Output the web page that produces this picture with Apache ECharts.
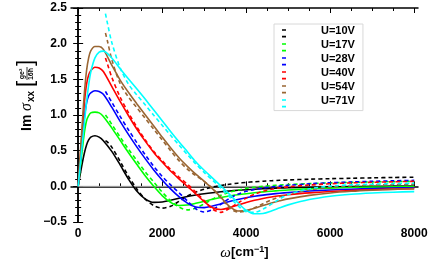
<!DOCTYPE html>
<html>
<head>
<meta charset="utf-8">
<script src="https://cdn.jsdelivr.net/npm/echarts@6/dist/echarts.min.js"></script>
<style>html,body{margin:0;padding:0;background:#fff}#c{width:436px;height:272px}</style>
</head>
<body>
<div id="c"></div>
<script>
// ---- data ----
const voltages = ['U=10V','U=17V','U=28V','U=40V','U=54V','U=71V'];
const xTicks = [0, 2000, 4000, 6000, 8000];
const xMinorTicks = [500,1000,1500,2500,3000,3500,4500,5000,5500,6500,7000,7500];
const yTicks = [-0.5, 0.0, 0.5, 1.0, 1.5, 2.0, 2.5];

const solidX = [0,50,100,150,200,250,300,400,500,600,800,1000,1200,1400,1600,1800,2000,2200,2400,2600,2800,3000,3200,3400,3600,3800,4000,4200,4400,4600,4800,5000,5500,6000,6500,7000,7500,8000];
const solid10 = [0,0.17,0.33,0.47,0.58,0.65,0.69,0.71,0.69,0.64,0.49,0.30,0.10,-0.07,-0.18,-0.225,-0.22,-0.195,-0.168,-0.143,-0.122,-0.104,-0.089,-0.076,-0.065,-0.055,-0.047,-0.04,-0.034,-0.029,-0.024,-0.02,-0.013,-0.007,-0.003,0.0,0.003,0.005];
const solid17 = [0,0.26,0.52,0.76,0.92,0.99,1.03,1.04,1.03,0.98,0.82,0.645,0.47,0.305,0.145,0.0,-0.13,-0.225,-0.268,-0.262,-0.238,-0.21,-0.182,-0.157,-0.136,-0.118,-0.103,-0.09,-0.078,-0.068,-0.059,-0.051,-0.036,-0.025,-0.017,-0.011,-0.006,-0.002];
const solid28 = [0,0.33,0.66,0.97,1.17,1.27,1.31,1.34,1.33,1.29,1.11,0.91,0.725,0.55,0.385,0.23,0.09,-0.035,-0.145,-0.235,-0.29,-0.298,-0.275,-0.245,-0.213,-0.185,-0.16,-0.14,-0.123,-0.109,-0.097,-0.087,-0.066,-0.051,-0.04,-0.031,-0.024,-0.019];
const solid40 = [0,0.40,0.80,1.18,1.43,1.56,1.62,1.67,1.66,1.61,1.40,1.19,0.99,0.80,0.63,0.475,0.34,0.215,0.105,0.0,-0.105,-0.215,-0.30,-0.325,-0.30,-0.262,-0.226,-0.195,-0.17,-0.15,-0.133,-0.119,-0.092,-0.072,-0.058,-0.047,-0.039,-0.032];
const solid54 = [0,0.45,0.90,1.32,1.62,1.80,1.90,1.96,1.96,1.92,1.70,1.49,1.315,1.155,1.0,0.845,0.69,0.54,0.40,0.28,0.17,0.07,-0.035,-0.155,-0.28,-0.345,-0.34,-0.307,-0.268,-0.233,-0.203,-0.176,-0.127,-0.093,-0.07,-0.054,-0.042,-0.034];
const solid71 = [0,0.30,0.60,0.90,1.18,1.42,1.60,1.80,1.88,1.895,1.80,1.65,1.505,1.365,1.22,1.07,0.92,0.77,0.625,0.485,0.345,0.225,0.115,0.005,-0.11,-0.23,-0.335,-0.385,-0.38,-0.345,-0.30,-0.26,-0.185,-0.138,-0.11,-0.093,-0.082,-0.074];

const dashX = [650,700,800,1000,1200,1400,1600,1800,2000,2200,2400,2600,2800,3000,3200,3400,3600,3800,4000,4200,4400,4600,4800,5000,5500,6000,6500,7000,7500,8000];
const dash10 = [0.64,0.62,0.55,0.35,0.14,-0.04,-0.18,-0.27,-0.305,-0.28,-0.21,-0.135,-0.08,-0.04,-0.01,0.012,0.03,0.044,0.055,0.064,0.072,0.079,0.085,0.09,0.10,0.107,0.113,0.119,0.124,0.128];
const dash17 = [1.00,0.96,0.87,0.69,0.52,0.36,0.20,0.06,-0.08,-0.20,-0.29,-0.33,-0.305,-0.245,-0.18,-0.125,-0.083,-0.052,-0.029,-0.012,0.0,0.01,0.018,0.025,0.038,0.048,0.055,0.061,0.066,0.07];
const dash28 = [1.33,1.28,1.18,0.98,0.79,0.61,0.44,0.28,0.14,0.02,-0.09,-0.205,-0.315,-0.36,-0.325,-0.25,-0.17,-0.11,-0.07,-0.043,-0.024,-0.009,0.003,0.014,0.035,0.05,0.061,0.07,0.077,0.083];
const dash40 = [1.80,1.71,1.53,1.25,1.03,0.83,0.65,0.49,0.36,0.24,0.13,0.03,-0.08,-0.20,-0.32,-0.365,-0.31,-0.235,-0.165,-0.11,-0.07,-0.042,-0.022,-0.007,0.018,0.036,0.048,0.057,0.064,0.07];
const dash54 = [2.15,2.03,1.78,1.44,1.25,1.10,0.95,0.80,0.65,0.50,0.36,0.24,0.15,0.07,-0.03,-0.16,-0.30,-0.36,-0.345,-0.30,-0.245,-0.19,-0.145,-0.11,-0.05,-0.015,0.005,0.017,0.024,0.028];
const dash71 = [2.42,2.28,2.02,1.66,1.43,1.28,1.14,0.995,0.855,0.715,0.58,0.445,0.315,0.195,0.085,-0.025,-0.145,-0.27,-0.355,-0.365,-0.32,-0.25,-0.175,-0.115,-0.035,0.003,0.02,0.03,0.037,0.042];

const zeroX = [0, 8000];
const zeroY = [0, 0];

// ---- styles ----
const colors = ['#000000','#00ff00','#0000ff','#ff0000','#996633','#00ffff'];
const solids = [solid10, solid17, solid28, solid40, solid54, solid71];
const dashes = [dash10, dash17, dash28, dash40, dash54, dash71];
const SANS = '"Liberation Sans", Arial, sans-serif';
const SERIF = '"Liberation Serif", "Times New Roman", serif';

const series = [{
  name: 'zero', type: 'line', showSymbol: false, silent: true, z: 1,
  data: zeroX.map((x, i) => [x, zeroY[i]]),
  lineStyle: { color: '#aaaaaa', width: 1 }
}];
voltages.forEach((u, k) => {
  series.push({
    name: u + ' ', type: 'line', showSymbol: false, smooth: 0.3, silent: true,
    data: solidX.map((x, i) => [x, solids[k][i]]),
    itemStyle: { color: colors[k] },
    lineStyle: { color: colors[k], width: 1.6 }
  });
  series.push({
    name: u, type: 'line', showSymbol: false, smooth: 0.3, silent: true,
    data: dashX.map((x, i) => [x, dashes[k][i]]),
    itemStyle: { color: colors[k] },
    lineStyle: { color: colors[k], width: 1.6, type: [4, 3] }
  });
});

const XMIN = -170, XMAX = 8090;
const frameLine = { show: true, lineStyle: { color: '#000', width: 1.5 } };
function xAxisDef(pos, major, showLabel, showLine) {
  return {
    type: 'value', position: pos, min: XMIN, max: XMAX,
    axisLine: showLine ? frameLine : { show: false },
    splitLine: { show: false },
    axisTick: { show: true, inside: true, length: major ? 5 : 3,
      customValues: major ? xTicks : xMinorTicks, lineStyle: { color: '#000', width: 1 } },
    axisLabel: showLabel ? { show: true, customValues: xTicks, margin: 6,
      formatter: v => String(v),
      fontFamily: SANS, fontWeight: 'bold', fontSize: 12, color: '#000' } : { show: false }
  };
}
const xAxes = [
  xAxisDef('bottom', true, true, true),
  xAxisDef('bottom', false, false, false),
  xAxisDef('top', true, false, true),
  xAxisDef('top', false, false, false)
];
xAxes[0].name = '{w|ω}{b|[cm}{s|−1}{b|]}';
xAxes[0].nameLocation = 'middle';
xAxes[0].nameGap = 21;
xAxes[0].nameTextStyle = {
  color: '#000',
  rich: {
    w: { fontFamily: SERIF, fontStyle: 'italic', fontSize: 15, color: '#000' },
    b: { fontFamily: SANS, fontWeight: 'bold', fontSize: 13, color: '#000' },
    s: { fontFamily: SANS, fontWeight: 'bold', fontSize: 9, color: '#000', padding: [0, 0, 7, 0] }
  }
};

function yAxisDef(pos, showLabel) {
  return {
    type: 'value', position: pos, min: yTicks[0], max: yTicks[yTicks.length - 1], interval: 0.5,
    axisLine: frameLine,
    splitLine: { show: false },
    axisTick: { show: true, inside: true, length: 5, lineStyle: { color: '#000', width: 1 } },
    minorTick: { show: true, splitNumber: 5, length: 3, lineStyle: { color: '#000', width: 1 } },
    minorSplitLine: { show: false },
    axisLabel: showLabel ? {
      show: true, margin: 4, fontFamily: SANS, fontWeight: 'bold', fontSize: 12, color: '#000',
      formatter: v => (v < 0 ? '−' : '') + Math.abs(v).toFixed(1)
    } : { show: false }
  };
}

const chart = echarts.init(document.getElementById('c'), null, { renderer: 'canvas' });
chart.setOption({
  animation: false,
  backgroundColor: '#ffffff',
  grid: { left: 71, right: 18, top: 8, bottom: 50, containLabel: false },
  xAxis: xAxes,
  yAxis: [yAxisDef('left', true), yAxisDef('right', false)],
  legend: {
    show: true, orient: 'vertical', left: 274, top: 24,
    data: voltages,
    icon: 'path://M0,-5.3L0,-5.3M34,8.3L34,8.3M0,0H4V1.5H0Z M0,6.5H4V8.2H0Z',
    itemWidth: 34, itemHeight: 13.6, itemGap: 0.4,
    padding: [0, 8, 3, 8],
    backgroundColor: '#ffffff', borderColor: '#d8d8d8', borderWidth: 1,
    textStyle: { fontFamily: SANS, fontWeight: 'bold', fontSize: 11, color: '#000' },
    selectedMode: false
  },
  graphic: [{
    type: 'group', x: 27, y: 131, rotation: Math.PI / 2,
    children: [
      { type: 'text', x: 0, y: 0, style: { text: 'Im', font: 'bold 14px ' + SANS, fill: '#000', verticalAlign: 'middle' } },
      { type: 'text', x: 20, y: 0, style: { text: 'σ', font: 'italic 16px ' + SERIF, fill: '#000', verticalAlign: 'middle' } },
      { type: 'text', x: 29, y: 4, style: { text: 'xx', font: 'bold 10px ' + SANS, fill: '#000', verticalAlign: 'middle' } },
      { type: 'text', x: 44, y: -1, style: { text: '[', font: '22px ' + SANS, fill: '#000', verticalAlign: 'middle' } },
      { type: 'text', x: 57, y: -4.5, style: { text: 'ge²', font: 'bold 7px ' + SANS, fill: '#000', align: 'center', verticalAlign: 'middle' } },
      { type: 'line', shape: { x1: 51, y1: 0, x2: 64, y2: 0 }, style: { stroke: '#000', lineWidth: 0.8 } },
      { type: 'text', x: 57, y: 4.5, style: { text: '16ħ', font: 'bold 7px ' + SANS, fill: '#000', align: 'center', verticalAlign: 'middle' } },
      { type: 'text', x: 65, y: -1, style: { text: ']', font: '22px ' + SANS, fill: '#000', verticalAlign: 'middle' } }
    ]
  }],
  series: series
});
</script>
</body>
</html>
